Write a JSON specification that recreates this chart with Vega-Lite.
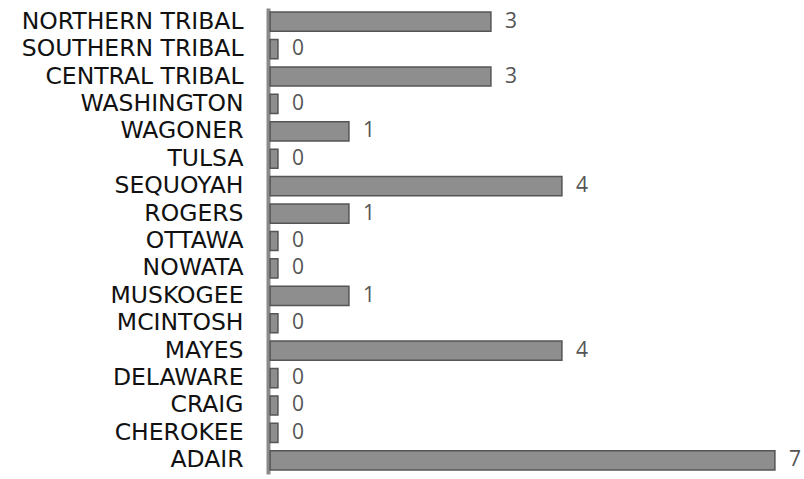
{
  "$schema": "https://vega.github.io/schema/vega-lite/v6.json",
  "width": 536,
  "height": 466,
  "autosize": {"type": "none"},
  "padding": {"left": 268, "top": 8, "right": 0, "bottom": 5},
  "background": "white",
  "config": {"view": {"stroke": null}},
  "data": {
    "values": [
      {"county": "NORTHERN TRIBAL", "value": 3},
      {"county": "SOUTHERN TRIBAL", "value": 0},
      {"county": "CENTRAL TRIBAL", "value": 3},
      {"county": "WASHINGTON", "value": 0},
      {"county": "WAGONER", "value": 1},
      {"county": "TULSA", "value": 0},
      {"county": "SEQUOYAH", "value": 4},
      {"county": "ROGERS", "value": 1},
      {"county": "OTTAWA", "value": 0},
      {"county": "NOWATA", "value": 0},
      {"county": "MUSKOGEE", "value": 1},
      {"county": "MCINTOSH", "value": 0},
      {"county": "MAYES", "value": 4},
      {"county": "DELAWARE", "value": 0},
      {"county": "CRAIG", "value": 0},
      {"county": "CHEROKEE", "value": 0},
      {"county": "ADAIR", "value": 7}
    ]
  },
  "encoding": {
    "y": {
      "field": "county",
      "type": "nominal",
      "sort": null,
      "scale": {"paddingInner": 0.3, "paddingOuter": 0.15},
      "axis": {
        "title": null,
        "ticks": false,
        "labelFont": "DejaVu Sans",
        "labelFontSize": 23.5,
        "labelColor": "#111",
        "labelPadding": 25,
        "labelLimit": 300,
        "domainColor": "#8a8a8a",
        "domainWidth": 4
      }
    }
  },
  "layer": [
    {
      "mark": {"type": "bar", "fill": "#8e8e8e", "stroke": "#555555", "strokeWidth": 1.5},
      "encoding": {
        "x": {
          "field": "value",
          "type": "quantitative",
          "scale": {"domain": [-0.14, 7.41], "nice": false, "zero": false},
          "axis": null
        },
        "x2": {"datum": -0.11}
      }
    },
    {
      "mark": {"type": "text", "align": "left", "baseline": "middle", "dx": 14, "font": "Open Sans", "fontSize": 21, "fill": "#555555"},
      "encoding": {
        "x": {"field": "value", "type": "quantitative"},
        "text": {"field": "value", "type": "quantitative"}
      }
    }
  ]
}
